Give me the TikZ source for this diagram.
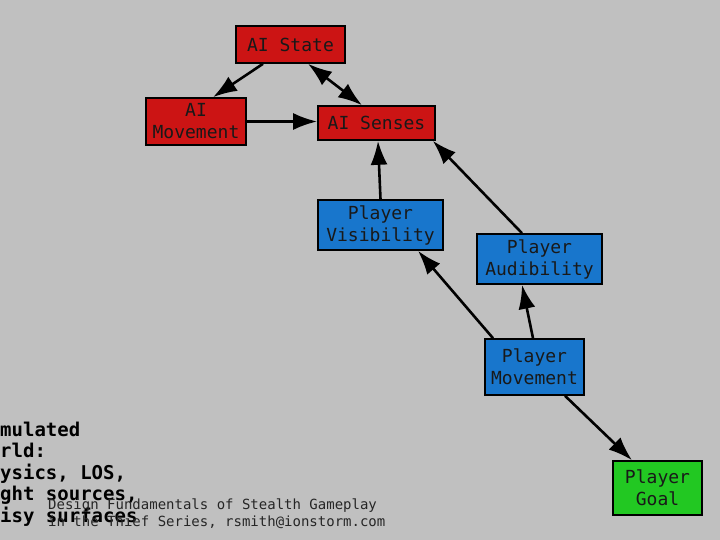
\documentclass[tikz,border=0pt]{standalone}
\usepackage{fontspec}
\setmonofont{DejaVu Sans Mono}
\usepackage{tikz}
\usetikzlibrary{arrows.meta,positioning}

\definecolor{aired}{RGB}{204,20,20}
\definecolor{plblue}{RGB}{24,118,204}
\definecolor{plgreen}{RGB}{34,200,34}
\definecolor{slidebg}{RGB}{192,192,192}

\tikzset{
	box/.style={draw=black, line width=1.6pt, inner sep=0pt, align=center, text=black!90,
		font=\ttfamily\fontsize{18}{22}\selectfont},
	redbox/.style={box, fill=aired},
	bluebox/.style={box, fill=plblue},
	greenbox/.style={box, fill=plgreen},
	tip/.tip={Latex[length=24pt,width=17pt]},
	link/.style={line width=2.6pt, -tip},
	sidetext/.style={anchor=base west, inner sep=0pt, font=\ttfamily\bfseries\fontsize{19}{22}\selectfont},
	foot/.style={anchor=base west, inner sep=0pt, text=black!85, font=\ttfamily\fontsize{14}{17}\selectfont}
}

\begin{document}
\begin{tikzpicture}[x=1pt, y=-1pt]
		\fill[slidebg] (0,0) rectangle (720,540);
		\useasboundingbox (0,0) rectangle (720,540);
		
		\node[redbox, minimum width=109pt, minimum height=37pt] (state) at (290.5,44.5) {AI State};
		\node[redbox, minimum width=100pt, minimum height=47pt] (amove) at (196,121.5) {AI\\Movement};
		\node[redbox, minimum width=117pt, minimum height=34pt] (senses) at (376.5,123) {AI Senses};
		
		\node[bluebox, minimum width=125pt, minimum height=50pt] (vis) at (380.5,225) {Player\\Visibility};
		\node[bluebox, minimum width=125pt, minimum height=50pt] (aud) at (539.5,259) {Player\\Audibility};
		\node[bluebox, minimum width=99pt, minimum height=56pt] (pmove) at (534.5,367) {Player\\Movement};
		\node[greenbox, minimum width=89pt, minimum height=54pt] (goal) at (657.5,488) {Player\\Goal};
		
		\draw[link] ([xshift=-27.5pt]state.south) -- ([xshift=17pt]amove.north);
		\draw[link, tip-tip] ([xshift=17.5pt]state.south) -- ([xshift=-14.5pt]senses.north);
		\draw[link] (amove.east) -- (amove.east -| senses.west);
		
		\draw[link] (vis.north) -- ([xshift=1.5pt]senses.south);
		\draw[link] ([xshift=-17.5pt]aud.north) -- ([xshift=-3pt]senses.south east);
		
		\draw[link] ([xshift=-41.5pt]pmove.north) -- ([xshift=37.5pt]vis.south);
		\draw[link] ([xshift=-1.5pt]pmove.north) -- ([xshift=-17.5pt]aud.south);
		\draw[link] ([xshift=30.5pt]pmove.south) -- ([xshift=-25.5pt]goal.north);
		
		\node[sidetext] (s1) at (0,436) {mulated};
		\node[sidetext] (s2) at (0,457.5) {rld:};
		\node[sidetext] (s3) at (0,479) {ysics, LOS,};
		\node[sidetext] (s4) at (0,500.5) {ght sources,};
		\node[sidetext] (s5) at (0,522) {isy surfaces};
		
		\node[foot] (f1) at (48,509.5) {Design Fundamentals of Stealth Gameplay};
		\node[foot] (f2) at (48,526.5) {in the Thief Series, rsmith@ionstorm.com};
\end{tikzpicture}
\end{document}
